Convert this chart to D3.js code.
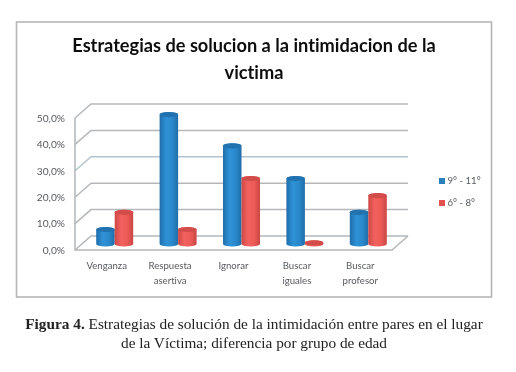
<!DOCTYPE html>
<html>
<head>
<meta charset="utf-8">
<script src="https://cdn.jsdelivr.net/npm/d3@7"></script>
<style>
    html, body { margin: 0; padding: 0; background: #fff; }
    svg { display: block; }
    text { font-variant-ligatures: none; }
    .axis text { font-family: Lato, sans-serif; fill: #565b60; }
    .axis path, .axis line { display: none; }
</style>
</head>
<body>
<div id="chart"></div>
<script>
// data
const categories = ['Venganza', 'Respuesta asertiva', 'Ignorar', 'Buscar iguales', 'Buscar profesor'];
const categoryLines = [['Venganza'], ['Respuesta', 'asertiva'], ['Ignorar'], ['Buscar', 'iguales'], ['Buscar', 'profesor']];
const seriesNames = ['9° - 11°', '6° - 8°'];
const olderValues = [5.5, 49, 37.2, 24.8, 12];
const youngerValues = [12, 5.5, 24.8, 0.4, 18.3];
const yTicks = [0, 10, 20, 30, 40, 50];
const titleLines = ['Estrategias de solucion a la intimidacion de la', 'victima'];

const width = 516, height = 372;
const plot = {left: 75, right: 392, bottom: 250, top: 118};
const depth = {x: 16, y: 14};
const barWidth = 18.5, capRy = 2.6;

const svg = d3.select('#chart').append('svg')
    .attr('width', width)
    .attr('height', height);

// gradients for the cylinders
const defs = svg.append('defs');
const addGradient = (id, stops) => {
    const g = defs.append('linearGradient').attr('id', id);
    stops.forEach(([o, c]) => g.append('stop').attr('offset', o).attr('stop-color', c));
};
addGradient('blueBody', [[0, '#1f6dab'], [0.35, '#2f92d6'], [0.7, '#2b88ca'], [1, '#1f6ca8']]);
addGradient('redBody', [[0, '#cf4846'], [0.35, '#f2625e'], [0.7, '#ec5a56'], [1, '#c94644']]);

defs.append('filter').attr('id', 'soft')
    .append('feGaussianBlur').attr('stdDeviation', 0.7);
defs.append('filter').attr('id', 'softer')
    .append('feGaussianBlur').attr('stdDeviation', 0.35);

// chart frame
svg.append('rect')
    .attr('x', 16.5).attr('y', 22)
    .attr('width', 475).attr('height', 275)
    .attr('fill', '#fff')
    .attr('stroke', '#b4b6b6')
    .attr('stroke-width', 1.6);

const chart = svg.append('g').attr('filter', 'url(#soft)');

// scales
const xScale = d3.scaleBand().domain(categories).range([plot.left, plot.right]);
const yScale = d3.scaleLinear().domain([0, 50]).range([plot.bottom, plot.top]);
const groupScale = d3.scaleBand().domain(seriesNames).range([-barWidth, barWidth]);

// back wall gridlines, left wall diagonals
chart.append('g').selectAll('path.grid')
    .data(yTicks)
    .enter()
    .append('path')
    .attr('class', 'grid')
    .attr('fill', 'none')
    .attr('stroke', d => d === 30 ? '#b4c4ce' : '#b4b8bb')
    .attr('stroke-width', 1.5)
    .attr('d', d => {
        const y = yScale(d);
        return `M${plot.left},${y}L${plot.left + depth.x},${y - depth.y}L${plot.right + depth.x},${y - depth.y}`;
    });

// left edge and floor
chart.append('path')
    .attr('fill', 'none')
    .attr('stroke', '#b4b8bb')
    .attr('stroke-width', 1.5)
    .attr('d', `M${plot.left},${yScale(50)}L${plot.left},${plot.bottom}L${plot.right},${plot.bottom}L${plot.right + depth.x},${plot.bottom - depth.y}`);

// axes
const yAxis = chart.append('g')
    .attr('class', 'axis')
    .attr('transform', `translate(${plot.left - 6},0)`)
    .call(d3.axisLeft(yScale)
        .tickValues(yTicks)
        .tickSize(0)
        .tickPadding(4)
        .tickFormat(d => d.toFixed(1).replace('.', ',') + '%'));
yAxis.selectAll('text').style('font-size', '10.2px');

const xAxis = chart.append('g')
    .attr('class', 'axis')
    .attr('transform', `translate(0,${plot.bottom + 16})`)
    .call(d3.axisBottom(xScale).tickSize(0).tickPadding(0).tickFormat(''));
xAxis.selectAll('.tick text')
    .style('font-size', '9.6px')
    .each(function(d, i) {
        const text = d3.select(this);
        categoryLines[i].forEach((line, j) => {
            text.append('tspan')
                .attr('x', 0)
                .attr('y', j * 14.5)
                .attr('dy', '0.32em')
                .text(line);
        });
    });

// cylinders
function cylinderPath(cx, topY, baseY, rx, ry) {
    return `M${cx - rx},${topY}L${cx - rx},${baseY}A${rx},${ry} 0 0 0 ${cx + rx},${baseY}L${cx + rx},${topY}A${rx},${ry} 0 0 0 ${cx - rx},${topY}Z`;
}

function drawSeries(name, values, bodyFill, capFill) {
    const g = chart.append('g').attr('class', 'series');
    const rx = groupScale.bandwidth() / 2;
    const cx = i => xScale(categories[i]) + xScale.bandwidth() / 2 + depth.x / 2 + groupScale(name) + rx;
    const yAt = v => yScale(v) - depth.y / 2 + 1;

    values.forEach((v, i) => {
        g.append('path')
            .attr('d', cylinderPath(cx(i), yAt(v), yAt(0), rx, capRy))
            .attr('fill', `url(#${bodyFill})`);
        g.append('ellipse')
            .attr('cx', cx(i))
            .attr('cy', yAt(v))
            .attr('rx', rx)
            .attr('ry', capRy)
            .attr('fill', capFill);
    });
}

drawSeries(seriesNames[0], olderValues, 'blueBody', '#2472b0');
drawSeries(seriesNames[1], youngerValues, 'redBody', '#d24d4a');

// legend
const legendColors = ['#2a80bd', '#e2534f'];
const legend = chart.append('g').selectAll('g')
    .data(seriesNames)
    .enter()
    .append('g')
    .attr('transform', (d, i) => `translate(439,${178 + i * 22})`);
legend.append('rect')
    .attr('width', 6).attr('height', 6)
    .attr('fill', (d, i) => legendColors[i]);
legend.append('text')
    .attr('x', 8.5).attr('y', 3)
    .attr('dy', '0.35em')
    .attr('font-family', 'Lato, sans-serif')
    .attr('font-size', 9.6)
    .attr('fill', '#565b60')
    .text(d => d);

// chart title
chart.append('g').selectAll('text')
    .data(titleLines)
    .enter()
    .append('text')
    .attr('x', 254)
    .attr('y', (d, i) => 52 + i * 27)
    .attr('text-anchor', 'middle')
    .attr('font-family', 'Lato, sans-serif')
    .attr('font-weight', 700)
    .attr('font-size', 18.2)
    .attr('fill', '#111')
    .text(d => d);

// figure caption
const caption = svg.append('g')
    .attr('filter', 'url(#softer)')
    .attr('font-family', '"Liberation Serif", serif')
    .attr('font-size', 15.3)
    .attr('fill', '#222')
    .attr('text-anchor', 'middle');
const line1 = caption.append('text').attr('x', 254).attr('y', 329);
line1.append('tspan').attr('font-weight', 700).text('Figura 4.');
line1.append('tspan').text(' Estrategias de solución de la intimidación entre pares en el lugar');
caption.append('text').attr('x', 254).attr('y', 348)
    .text('de la Víctima; diferencia por grupo de edad');
</script>
</body>
</html>
